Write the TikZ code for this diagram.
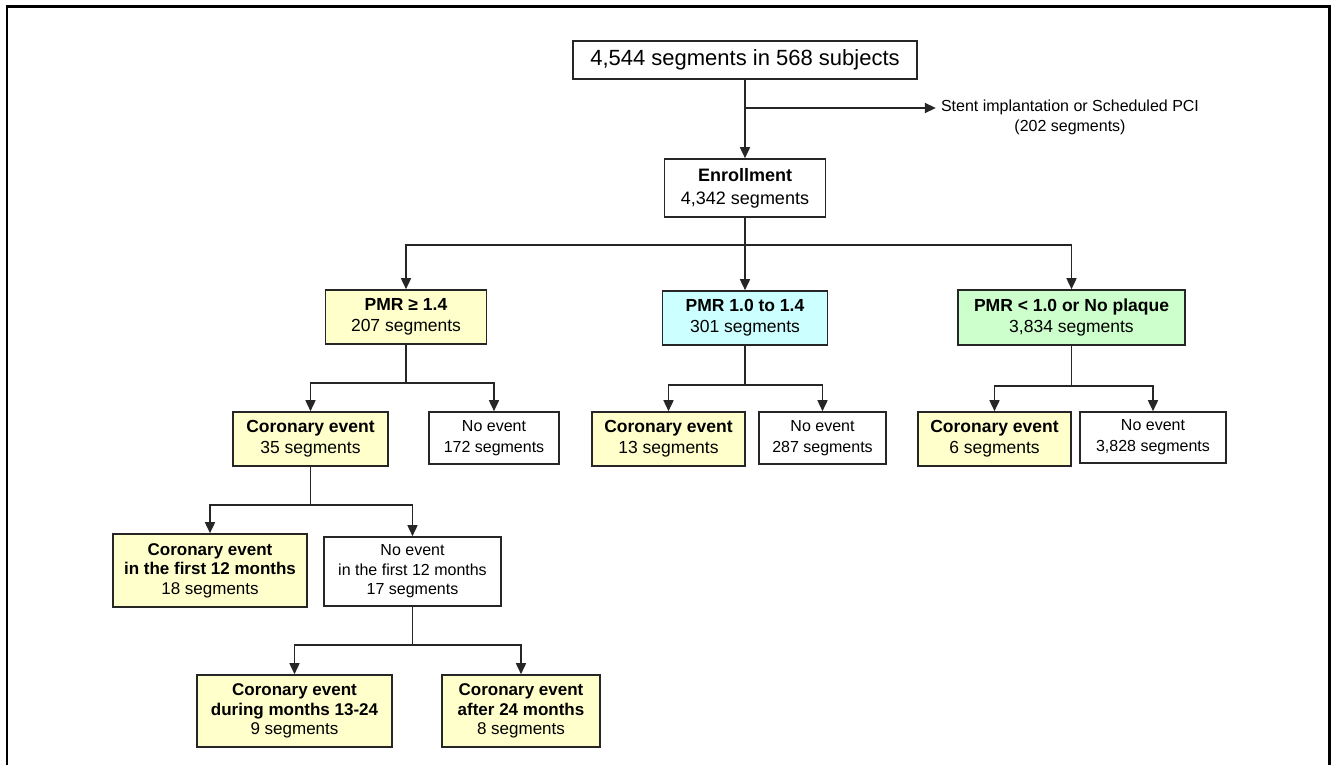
\documentclass[tikz,border=0pt]{standalone}
\usepackage{fontspec}
\setmainfont{Liberation Sans}
\usetikzlibrary{arrows.meta}
\definecolor{evyellow}{RGB}{255,255,204}
\definecolor{midcyan}{RGB}{204,255,255}
\definecolor{logreen}{RGB}{204,255,204}
\tikzset{
  box/.style={draw=black!85, line width=1.6pt, align=center, inner sep=0pt,
    font=\fontsize{17.5}{21}\selectfont},
  evbox/.style={box, fill=evyellow},
  nobox/.style={box, fill=white, font=\fontsize{16}{21}\selectfont},
  ln/.style={draw=black!85, line width=1.6pt},
  arr/.style={ln, -{Triangle[length=11pt,width=10pt]}},
}
\begin{document}
\begin{tikzpicture}[x=1pt,y=-1pt]
\useasboundingbox (0,0) rectangle (1334,765);
\draw[line width=2.2pt] (7,775) -- (7,6.5) -- (1329.5,6.5) -- (1329.5,775);

% top of the chart
\node[box, minimum width=344, minimum height=38, font=\fontsize{22}{26}\selectfont] (all) at (745,60) {4,544 segments in 568 subjects};
\node[box, minimum width=161, minimum height=58, font=\fontsize{18}{23}\selectfont] (enroll) at (745,188) {\textbf{Enrollment}\\4,342 segments};
\node[align=center, inner xsep=5pt, inner ysep=0pt, font=\fontsize{16}{20}\selectfont] (stent) at (1070,117) {Stent implantation or Scheduled PCI\\(202 segments)};
\coordinate (excl) at (745,108);
\draw[arr] (all) -- (enroll);
\draw[arr] (excl) -- (stent.west |- excl);

% PMR groups
\node[evbox, minimum width=161, minimum height=54] (hi) at (406,317) {\textbf{PMR ≥ 1.4}\\207 segments};
\node[box, fill=midcyan, minimum width=165, minimum height=54] (mid) at (745,318) {\textbf{PMR 1.0 to 1.4}\\301 segments};
\node[box, fill=logreen, minimum width=227, minimum height=55] (lo) at (1071.5,317.5) {\textbf{PMR < 1.0 or No plaque}\\3,834 segments};
\draw[ln] (enroll) -- (745,245) coordinate (s0);
\draw[arr] (s0) -| (hi.north);
\draw[arr] (s0) -- (mid.north);
\draw[arr] (s0) -| (lo.north);

% events per group
\node[evbox, minimum width=155, minimum height=54] (ce35) at (310.5,439) {\textbf{Coronary event}\\35 segments};
\node[nobox, minimum width=130, minimum height=52] (ne172) at (494,438) {No event\\172 segments};
\node[evbox, minimum width=153, minimum height=54] (ce13) at (668.5,439) {\textbf{Coronary event}\\13 segments};
\node[nobox, minimum width=127, minimum height=52] (ne287) at (822.5,438) {No event\\287 segments};
\node[evbox, minimum width=153, minimum height=54] (ce6) at (994.5,439) {\textbf{Coronary event}\\6 segments};
\node[nobox, minimum width=146, minimum height=51] (ne3828) at (1153,437.5) {No event\\3,828 segments};
\draw[ln] (hi.south) -- ++(0,38) coordinate (s1);
\draw[arr] (s1) -| (ce35.north);
\draw[arr] (s1) -| (ne172.north);
\draw[ln] (mid.south) -- ++(0,39) coordinate (s2);
\draw[arr] (s2) -| (ce13.north);
\draw[arr] (s2) -| (ne287.north);
\draw[ln] (lo.south) -- ++(0,40) coordinate (s3);
\draw[arr] (s3) -| (ce6.north);
\draw[arr] (s3) -| (ne3828.north);

% timing of the events
\node[evbox, minimum width=194, minimum height=73, font=\fontsize{17}{19.5}\selectfont] (ce12) at (210,570.5) {\textbf{Coronary event}\\\textbf{in the first 12 months}\\18 segments};
\node[nobox, minimum width=177, minimum height=69, font=\fontsize{16}{19.5}\selectfont] (ne12) at (412.5,571.5) {No event\\in the first 12 months\\17 segments};
\draw[ln] (ce35.south) -- ++(0,38) coordinate (s4);
\draw[arr] (s4) -| (ce12.north);
\draw[arr] (s4) -| (ne12.north);
\node[evbox, minimum width=195, minimum height=72, font=\fontsize{17}{19.5}\selectfont] (ce1324) at (294.5,711) {\textbf{Coronary event}\\\textbf{during months 13-24}\\9 segments};
\node[evbox, minimum width=158, minimum height=72, font=\fontsize{17}{19.5}\selectfont] (ce24) at (521,711) {\textbf{Coronary event}\\\textbf{after 24 months}\\8 segments};
\draw[ln] (ne12.south) -- ++(0,38) coordinate (s5);
\draw[arr] (s5) -| (ce1324.north);
\draw[arr] (s5) -| (ce24.north);
\end{tikzpicture}
\end{document}
